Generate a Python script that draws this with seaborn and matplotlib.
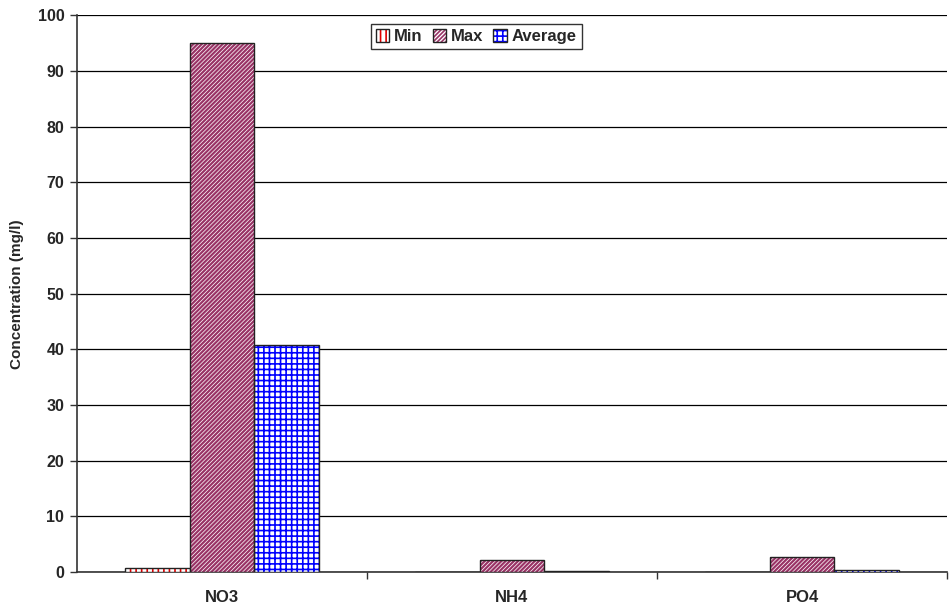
import matplotlib
matplotlib.use("Agg")
import matplotlib.pyplot as plt
from matplotlib.patches import Rectangle, Patch
from matplotlib.legend_handler import HandlerTuple
import seaborn as sns
import pandas as pd

# Nutrient concentrations (mg/l)
parameters = ["NO3", "NH4", "PO4"]
stats = ["Min", "Max", "Average"]
min_values = [0.7, 0.02, 0.02]
max_values = [95.0, 2.2, 2.75]
avg_values = [40.8, 0.25, 0.4]
y_ticks = list(range(0, 101, 10))

rows = []
for stat, vals in zip(stats, [min_values, max_values, avg_values]):
    for p, v in zip(parameters, vals):
        rows.append({"Parameter": p, "Statistic": stat, "Value": v})
df = pd.DataFrame(rows)

sns.set_theme(style="white")
plt.rcParams["font.family"] = ["Liberation Sans", "DejaVu Sans"]
plt.rcParams["hatch.linewidth"] = 1.2

# hatch pattern, hatch colour, hatch line width per series
hatch_styles = {
    "Min": ("|||", "#E00000", 1.2),
    "Max": ("////////", "#993366", 1.6),
    "Average": ("+++", "#0000FF", 1.2),
}
outline = "#222222"


def style_hatch(patch, stat):
    hatch, color, lw = hatch_styles[stat]
    patch.set_facecolor("white")
    patch.set_edgecolor(color)
    patch.set_hatch(hatch)
    patch.set_linewidth(0)
    if hasattr(patch, "set_hatch_linewidth"):
        patch.set_hatch_linewidth(lw)


fig = plt.figure(figsize=(9.49, 6.10), dpi=100)
ax = fig.add_axes([0.081, 0.062, 0.917, 0.913])

sns.barplot(data=df, x="Parameter", y="Value", hue="Statistic",
            order=parameters, hue_order=stats, width=0.67, gap=0,
            palette=["white"] * 3, ax=ax, legend=False, zorder=3)

# hatch each bar in its series colour, then outline it in dark grey
for container, stat in zip(ax.containers, stats):
    for bar in container:
        style_hatch(bar, stat)
        ax.add_patch(Rectangle(bar.get_xy(), bar.get_width(), bar.get_height(),
                               fill=False, edgecolor=outline, linewidth=1.0,
                               zorder=4))

ax.set_ylim(0, 100)
ax.set_xlim(-0.5, 2.5)
ax.set_yticks(y_ticks)
ax.yaxis.grid(True, color="black", linewidth=0.9, zorder=0)
ax.set_axisbelow(True)

for s in ["top", "right"]:
    ax.spines[s].set_visible(False)
for s in ["left", "bottom"]:
    ax.spines[s].set_color("#333333")
    ax.spines[s].set_linewidth(1.2)

ax.tick_params(axis="y", which="major", direction="out", length=5, width=1,
               color="#333333", labelsize=11.5, pad=4, left=True)
ax.set_xticks([0.5, 1.5, 2.5], minor=True)
ax.tick_params(axis="x", which="major", length=0, labelsize=12, pad=13)
ax.tick_params(axis="x", which="minor", direction="out", length=5, width=1,
               color="#333333", bottom=True)
for lbl in ax.get_xticklabels() + ax.get_yticklabels():
    lbl.set_fontweight("bold")

ax.set_xlabel("")
ax.set_ylabel("Concentration (mg/l)", fontsize=11, fontweight="bold", labelpad=10)

handles = []
for stat in stats:
    fill = Patch()
    style_hatch(fill, stat)
    edge = Patch(facecolor="none", edgecolor=outline, linewidth=1.0)
    handles.append((fill, edge))
leg = ax.legend(handles, stats, loc="upper center", bbox_to_anchor=(0.459, 0.984),
                ncol=3, frameon=True, fancybox=False, edgecolor="black",
                handler_map={tuple: HandlerTuple(ndivide=1, pad=0)},
                handlelength=0.8, handleheight=0.8, handletextpad=0.3,
                columnspacing=0.6, borderpad=0.3, borderaxespad=0,
                prop={"weight": "bold", "size": 12})
leg.get_frame().set_linewidth(1.0)

fig.savefig("out.png", dpi=100)
